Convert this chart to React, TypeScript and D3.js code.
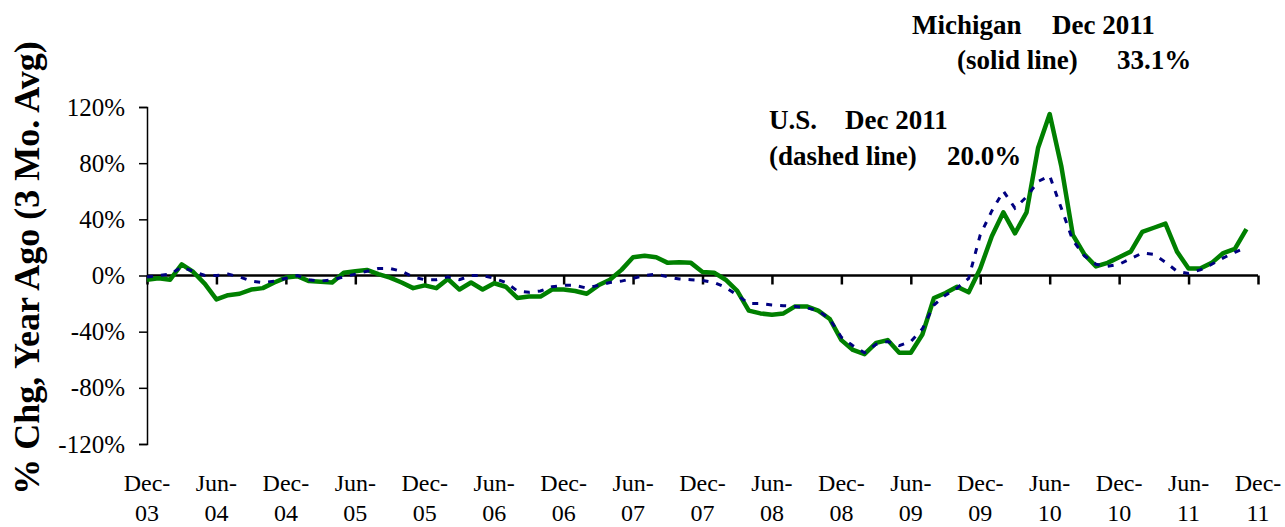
import { useEffect, useRef } from "react"
import * as d3 from "d3"

// tick labels every 6 months, Dec-03 .. Dec-11
const tickMonths = ["Dec", "Jun", "Dec", "Jun", "Dec", "Jun", "Dec", "Jun", "Dec", "Jun", "Dec", "Jun", "Dec", "Jun", "Dec", "Jun", "Dec"]
const tickYears = ["03", "04", "04", "05", "05", "06", "06", "07", "07", "08", "08", "09", "09", "10", "10", "11", "11"]

const yTicks = [-120, -80, -40, 0, 40, 80, 120]

// Michigan, % chg year ago (3 mo. avg), monthly
const michigan = [
  -3, -2, -3, 8, 2.5, -6, -17, -14, -13, -10, -9, -5,
  -1.5, -0.5, -4, -4.5, -5, 2, 3, 4, 1, -1.5, -5, -9,
  -7, -9, -2.5, -10, -5, -10, -5.5, -8, -16, -15, -15, -10,
  -10, -11, -13, -7, -3, 4, 13, 14, 13, 9, 9.5, 9,
  2.5, 2, -3, -11, -25, -27, -28, -27, -22, -22, -25, -31,
  -46, -53, -56, -48, -46, -55, -55, -42, -16, -12.5, -8, -12,
  5, 28, 45, 30, 45, 91, 115, 78, 29, 15, 6.5, 9,
  13, 17, 31, 34, 37, 17, 5, 5, 9, 16, 19, 33.1,
]

// U.S.
const us = [
  -1, 0, 1, 6, 3, 0, 0, 1, -1, -4, -5, -4,
  -2, 0, -3, -4, -3, -1, 1, 3, 5, 5, 3, -1,
  -3, -3, -1, -3, 0, 0, -2, -5, -11, -12, -11, -8,
  -7, -7, -9, -7, -5, -4, -2, 0, 1, -1, -2.5, -3,
  -3.5, -5, -8.5, -14, -20, -20, -21, -21.5, -22, -23, -25, -31,
  -44, -50, -55, -49, -47, -50, -47, -38, -21, -14, -9, -2,
  29, 46, 60, 48, 56, 67, 71, 48, 25, 14, 8, 6.5,
  8, 12, 16, 15, 9.5, 3, 1.5, 4, 8, 12.5, 16.5, 20,
]

const FONT = "'Liberation Serif', 'Times New Roman', serif"

export default function App() {
  const svgRef = useRef<SVGSVGElement>(null)

  useEffect(() => {
    if (!svgRef.current) return
    const svg = d3.select(svgRef.current)
    svg.selectAll("*").remove()

    const x = d3.scaleLinear().domain([0, 96]).range([147, 1258])
    const y = d3.scaleLinear().domain([-120, 120]).range([444, 107])

    // y axis
    const yAxis = svg
      .append("g")
      .attr("transform", `translate(${x(0)},0)`)
      .call(
        d3
          .axisLeft(y)
          .tickValues(yTicks)
          .tickSize(8)
          .tickPadding(14)
          .tickFormat((d) => `${d}%`),
      )
    yAxis.selectAll("text").attr("font-family", FONT).attr("font-size", 25).attr("fill", "#000")
    yAxis.selectAll("line, path").attr("stroke", "#000").attr("stroke-width", 1.5)

    // x axis on the zero line
    const tickIdx = d3.range(0, 97, 6)
    const xAxis = svg
      .append("g")
      .attr("transform", `translate(0,${y(0)})`)
      .call(d3.axisBottom(x).tickValues(tickIdx).tickSize(9).tickFormat(() => ""))
    xAxis.selectAll("line").attr("stroke", "#000").attr("stroke-width", 2.5)
    xAxis.select(".domain").attr("stroke", "#000").attr("stroke-width", 2.5).attr("d", `M${x(0)},0H${x(96)}`)

    // two-line tick labels at the bottom
    const lbl = svg.append("g").attr("font-family", FONT).attr("font-size", 24).attr("fill", "#000").attr("text-anchor", "middle")
    tickIdx.forEach((t, i) => {
      lbl.append("text").attr("x", x(t)).attr("y", 491).text(`${tickMonths[i]}-`)
      lbl.append("text").attr("x", x(t)).attr("y", 521).text(tickYears[i])
    })

    const line = d3
      .line<number>()
      .x((_, i) => x(i))
      .y((d) => y(d))

    svg
      .append("path")
      .datum(michigan)
      .attr("fill", "none")
      .attr("stroke", "#008000")
      .attr("stroke-width", 4.5)
      .attr("stroke-linejoin", "round")
      .attr("d", line)

    svg
      .append("path")
      .datum(us)
      .attr("fill", "none")
      .attr("stroke", "#000080")
      .attr("stroke-width", 3)
      .attr("stroke-dasharray", "6 8")
      .attr("d", line)

    // axis title
    svg
      .append("text")
      .attr("transform", `translate(39,268) rotate(-90)`)
      .attr("text-anchor", "middle")
      .attr("font-family", FONT)
      .attr("font-weight", "bold")
      .attr("font-size", 36)
      .attr("fill", "#000")
      .text("% Chg, Year Ago (3 Mo. Avg)")

    // annotations
    const notes = [
      { t: "Michigan", x: 912, y: 34 },
      { t: "Dec 2011", x: 1052, y: 34 },
      { t: "(solid line)", x: 957, y: 69 },
      { t: "33.1%", x: 1117, y: 69 },
      { t: "U.S.", x: 769, y: 129 },
      { t: "Dec 2011", x: 845, y: 129 },
      { t: "(dashed line)", x: 769, y: 165 },
      { t: "20.0%", x: 947, y: 165 },
    ]
    svg
      .append("g")
      .attr("font-family", FONT)
      .attr("font-weight", "bold")
      .attr("font-size", 27)
      .attr("fill", "#000")
      .selectAll("text")
      .data(notes)
      .enter()
      .append("text")
      .attr("x", (d) => d.x)
      .attr("y", (d) => d.y)
      .text((d) => d.t)
  }, [])

  return <svg ref={svgRef} width={1285} height={527} style={{ position: "absolute", left: 0, top: 0, background: "#fff" }} />
}
